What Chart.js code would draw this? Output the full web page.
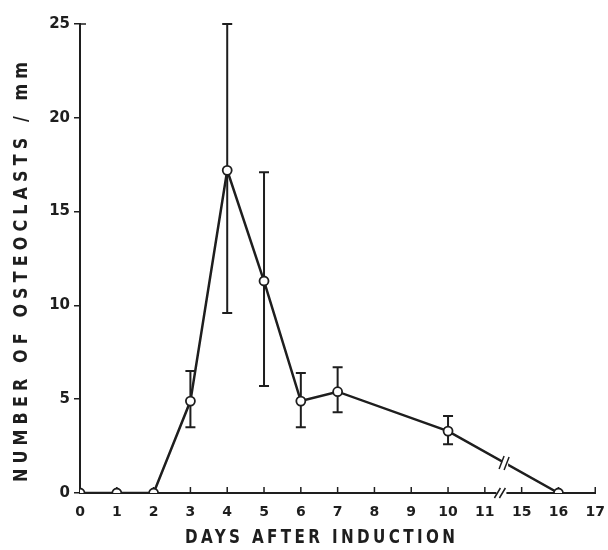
<!DOCTYPE html>
<html>
<head>
<meta charset="utf-8">
<script src="https://cdn.jsdelivr.net/npm/chart.js@4"></script>
<style>
  html, body { margin: 0; padding: 0; background: #fff; }
  #wrap { width: 608px; height: 550px; }
</style>
</head>
<body>
<div id="wrap"><canvas id="myChart" width="608" height="550"></canvas></div>
<script>
// days after induction and mean osteoclast counts
const days = [0, 1, 2, 3, 4, 5, 6, 7, 10, 16];
const means = [0, 0, 0, 4.9, 17.2, 11.3, 4.9, 5.4, 3.3, 0];
const errLow = [null, null, null, 3.5, 9.6, 5.7, 3.5, 4.3, 2.6, null];
const errHigh = [null, null, null, 6.5, 25, 17.1, 6.4, 6.7, 4.1, null];
const dayTicks = ['0', '1', '2', '3', '4', '5', '6', '7', '8', '9', '10', '11', '15', '16', '17'];
const yTicks = [0, 5, 10, 15, 20, 25];

const ink = '#1e1e1e';
const pos = d => dayTicks.indexOf(String(d));
const points = days.map((d, i) => ({ x: pos(d), y: means[i] }));

// condensed text spread out to a given width
function spreadText(ctx, text, width, squeeze) {
  ctx.save();
  ctx.scale(squeeze, 1);
  ctx.letterSpacing = '0px';
  const w = ctx.measureText(text).width;
  const sp = Math.max(0, (width / squeeze - w) / (text.length - 1));
  ctx.letterSpacing = sp + 'px';
  ctx.fillText(text, sp / 2, 0);
  ctx.restore();
}

const extras = {
  id: 'extras',
  beforeDatasetsDraw(chart) {
    const { ctx, scales: { x, y } } = chart;
    ctx.save();
    ctx.strokeStyle = ink;
    // error bars
    ctx.lineWidth = 2;
    days.forEach((d, i) => {
      if (errLow[i] == null) return;
      const px = x.getPixelForValue(pos(d));
      const lo = y.getPixelForValue(errLow[i]);
      const hi = y.getPixelForValue(errHigh[i]);
      ctx.beginPath();
      ctx.moveTo(px, lo); ctx.lineTo(px, hi);
      ctx.moveTo(px - 5, lo); ctx.lineTo(px + 5, lo);
      ctx.moveTo(px - 5, hi); ctx.lineTo(px + 5, hi);
      ctx.stroke();
    });
    // x ticks pointing up
    ctx.lineWidth = 1.5;
    dayTicks.forEach((t, i) => {
      const px = x.getPixelForValue(i);
      ctx.beginPath();
      ctx.moveTo(px, y.bottom); ctx.lineTo(px, y.bottom - 6);
      ctx.stroke();
    });
    // short inward tick at the top of the y axis
    ctx.beginPath();
    ctx.moveTo(x.left, y.top); ctx.lineTo(x.left + 6, y.top);
    ctx.stroke();
    ctx.restore();
  },
  afterDatasetsDraw(chart) {
    const { ctx, scales: { x, y } } = chart;
    ctx.save();
    // axis break
    const bx = x.getPixelForValue(11.45);
    const by = y.bottom;
    ctx.fillStyle = '#fff';
    ctx.fillRect(bx - 5, by - 3, 10, 6);
    ctx.strokeStyle = ink;
    ctx.lineWidth = 1.5;
    ctx.beginPath();
    ctx.moveTo(bx - 7, by + 5); ctx.lineTo(bx - 1, by - 5);
    ctx.moveTo(bx - 2, by + 5); ctx.lineTo(bx + 4, by - 5);
    ctx.stroke();
    // break on the line between day 10 and day 16
    const a = points[8], b = points[9];
    const t = (11.55 - a.x) / (b.x - a.x);
    const lx = x.getPixelForValue(11.55);
    const ly = y.getPixelForValue(a.y + t * (b.y - a.y));
    ctx.fillStyle = '#fff';
    ctx.fillRect(lx - 3, ly - 5, 6, 10);
    ctx.beginPath();
    ctx.moveTo(lx - 6, ly + 6); ctx.lineTo(lx - 1, ly - 7);
    ctx.moveTo(lx - 1, ly + 7); ctx.lineTo(lx + 4, ly - 6);
    ctx.stroke();
    // axis titles
    ctx.fillStyle = ink;
    ctx.textAlign = 'center';
    ctx.textBaseline = 'middle';
    ctx.font = 'bold 19px "DejaVu Sans"';
    ctx.save();
    ctx.translate(320, 538);
    spreadText(ctx, 'DAYS AFTER INDUCTION', 270, 0.8);
    ctx.restore();
    ctx.font = 'bold 20px "DejaVu Sans"';
    ctx.translate(22, 272);
    ctx.rotate(-Math.PI / 2);
    spreadText(ctx, 'NUMBER OF OSTEOCLASTS / mm', 420, 0.8);
    ctx.restore();
  }
};

new Chart(document.getElementById('myChart'), {
  type: 'line',
  data: {
    datasets: [{
      data: points,
      borderColor: ink,
      borderWidth: 2.5,
      tension: 0,
      pointRadius: 4.5,
      pointBorderWidth: 1.8,
      pointBackgroundColor: '#fff',
      pointBorderColor: ink
    }]
  },
  options: {
    responsive: false,
    animation: false,
    layout: { padding: { top: 24, right: 8, left: 0, bottom: 0 } },
    plugins: { legend: { display: false }, tooltip: { enabled: false } },
    scales: {
      x: {
        type: 'linear',
        min: 0,
        max: dayTicks.length - 1,
        afterFit: s => { s.height = 57; },
        afterBuildTicks: s => { s.ticks = dayTicks.map((t, i) => ({ value: i })); },
        ticks: {
          callback: v => dayTicks[v],
          color: ink,
          font: { family: 'DejaVu Sans', size: 14, weight: 'bold' },
          padding: 3,
          maxRotation: 0,
          autoSkip: false
        },
        grid: { display: false, drawOnChartArea: false },
        border: { color: ink, width: 2 }
      },
      y: {
        min: 0,
        max: 25,
        afterFit: s => { s.width = 80; },
        afterBuildTicks: s => { s.ticks = yTicks.map(v => ({ value: v })); },
        ticks: {
          color: ink,
          font: { family: 'DejaVu Sans', size: 15, weight: 'bold' },
          padding: 4
        },
        grid: { drawOnChartArea: false, tickLength: 6, color: ink, lineWidth: 1.5 },
        border: { color: ink, width: 2 }
      }
    }
  },
  plugins: [extras]
});
</script>
</body>
</html>
